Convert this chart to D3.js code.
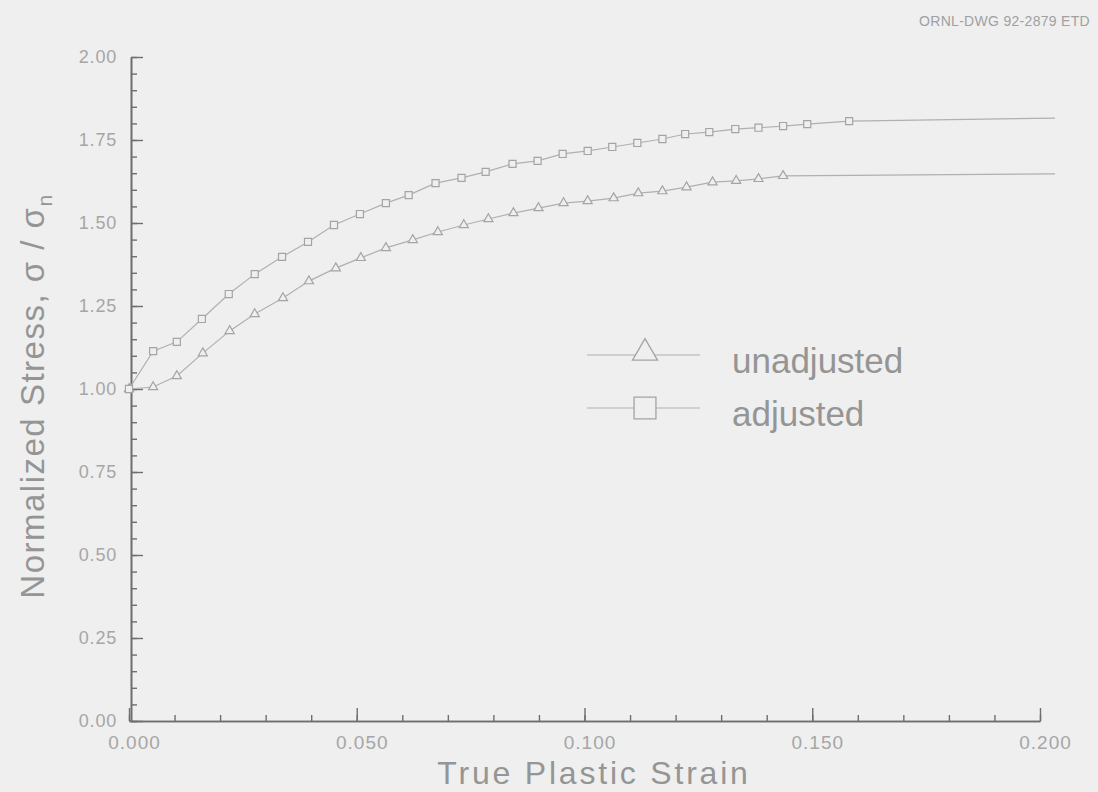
<!DOCTYPE html>
<html>
<head>
<meta charset="utf-8">
<script src="https://cdn.jsdelivr.net/npm/d3@7"></script>
<style>
  html, body { margin: 0; background: #efefef; }
  svg { display: block; font-family: "Liberation Sans", Arial, Helvetica, sans-serif; }
</style>
</head>
<body>
<svg id="chart" width="1098" height="792"></svg>
<script>
// Adjusted curve (square markers); last point is the plateau end of the line
const strainAdjusted = [0, 0.0053, 0.0105, 0.016, 0.0219, 0.0276, 0.0336, 0.0393, 0.0450, 0.0507,
  0.0564, 0.0614, 0.0673, 0.0730, 0.0783, 0.0842, 0.0897, 0.0952, 0.1007, 0.1061,
  0.1116, 0.1171, 0.1221, 0.1274, 0.1331, 0.1382, 0.1436, 0.1489, 0.1581, 0.2033];
const stressAdjusted = [1.00, 1.114, 1.142, 1.211, 1.286, 1.346, 1.398, 1.443, 1.494, 1.527,
  1.560, 1.584, 1.620, 1.636, 1.654, 1.678, 1.687, 1.708, 1.717, 1.729,
  1.741, 1.753, 1.768, 1.774, 1.783, 1.787, 1.792, 1.798, 1.807, 1.816];

// Unadjusted curve (triangle markers)
const strainUnadjusted = [0, 0.0053, 0.0105, 0.0162, 0.0221, 0.0276, 0.0338, 0.0395, 0.0454, 0.0509,
  0.0564, 0.0623, 0.0678, 0.0735, 0.0789, 0.0844, 0.0899, 0.0954, 0.1007, 0.1064,
  0.1118, 0.1171, 0.1224, 0.1281, 0.1333, 0.1382, 0.1436, 0.2033];
const stressUnadjusted = [1.00, 1.006, 1.039, 1.108, 1.175, 1.226, 1.274, 1.325, 1.364, 1.395,
  1.425, 1.449, 1.473, 1.494, 1.512, 1.530, 1.545, 1.560, 1.566, 1.575,
  1.590, 1.596, 1.608, 1.623, 1.627, 1.633, 1.642, 1.648];

const xMajorTicks = [0, 0.05, 0.10, 0.15, 0.20];
const xTickLabels = ["0.000", "0.050", "0.100", "0.150", "0.200"];
const yMajorTicks = [0, 0.25, 0.5, 0.75, 1.0, 1.25, 1.5, 1.75, 2.0];
const yTickLabels = ["0.00", "0.25", "0.50", "0.75", "1.00", "1.25", "1.50", "1.75", "2.00"];
const legendLabels = ["unadjusted", "adjusted"];

const svg = d3.select("#chart");
const x = d3.scaleLinear().domain([0, 0.2]).range([129, 1040]);
const y = d3.scaleLinear().domain([0, 2]).range([721, 57]);

const axisColor = "#6e6e6e";
const textColor = "#a6a6a6";
const titleColor = "#959595";
const curveColor = "#b0b0b0";
const markerColor = "#a4a4a4";

// minor ticks
const xMinor = d3.range(0, 0.2001, 0.01);
const yMinor = d3.range(0, 2.0001, 0.05);

function styleAxis(g) {
  g.select(".domain").attr("stroke", axisColor).attr("stroke-width", 1.6);
  g.selectAll(".tick line").attr("stroke", axisColor).attr("stroke-width", 1.4);
  g.selectAll(".tick text").attr("fill", textColor);
}

svg.append("g")
  .attr("transform", `translate(0,${y(0)})`)
  .call(d3.axisBottom(x).tickValues(xMinor).tickSizeInner(-6).tickSizeOuter(0).tickFormat(""))
  .call(styleAxis);
svg.append("g")
  .attr("transform", `translate(0,${y(0)})`)
  .call(d3.axisBottom(x).tickValues(xMajorTicks).tickSizeInner(-13).tickSizeOuter(0)
    .tickPadding(15).tickFormat((d, i) => xTickLabels[i]))
  .call(styleAxis)
  .call(g => g.selectAll(".tick text").attr("font-size", 19).attr("letter-spacing", 1).attr("dx", 5));

svg.append("g")
  .attr("transform", `translate(${x(0) + 2},0)`)
  .call(d3.axisLeft(y).tickValues(yMinor).tickSizeInner(-6).tickSizeOuter(0).tickFormat(""))
  .call(styleAxis);
svg.append("g")
  .attr("transform", `translate(${x(0) + 2},0)`)
  .call(d3.axisLeft(y).tickValues(yMajorTicks).tickSizeInner(-12).tickSizeOuter(0)
    .tickPadding(14).tickFormat((d, i) => yTickLabels[i]))
  .call(styleAxis)
  .call(g => g.selectAll(".tick text").attr("font-size", 18).attr("letter-spacing", 0.8));

// curves
const series = [
  { name: legendLabels[0], xs: strainUnadjusted, ys: stressUnadjusted, symbol: d3.symbolTriangle, size: 36 },
  { name: legendLabels[1], xs: strainAdjusted, ys: stressAdjusted, symbol: d3.symbolSquare, size: 50 }
];

const line = d3.line().x(d => x(d[0])).y(d => y(d[1]));

series.forEach(s => {
  const pts = s.xs.map((v, i) => [v, s.ys[i]]);
  svg.append("path")
    .datum(pts)
    .attr("d", line)
    .attr("fill", "none")
    .attr("stroke", curveColor)
    .attr("stroke-width", 1.2);
  svg.append("g").selectAll("path")
    .data(pts.slice(0, -1))
    .join("path")
    .attr("transform", d => `translate(${x(d[0])},${y(d[1])})`)
    .attr("d", d3.symbol().type(s.symbol).size(s.size))
    .attr("fill", "#efefef")
    .attr("stroke", markerColor)
    .attr("stroke-width", 1.2);
});

// legend
const legend = svg.append("g");
series.forEach((s, i) => {
  const cy = 355 + i * 53;
  legend.append("line")
    .attr("x1", 587).attr("x2", 700).attr("y1", cy).attr("y2", cy)
    .attr("stroke", curveColor).attr("stroke-width", 1.2);
  legend.append("path")
    .attr("transform", `translate(645,${cy - (i === 0 ? 2 : 0)})`)
    .attr("d", d3.symbol().type(s.symbol).size(i === 0 ? 270 : 480))
    .attr("fill", "#efefef")
    .attr("stroke", markerColor)
    .attr("stroke-width", 1.3);
  legend.append("text")
    .attr("x", 732).attr("y", cy + 18)
    .attr("font-size", 35)
    .attr("fill", titleColor)
    .text(s.name);
});

// axis titles
svg.append("text")
  .attr("x", 594).attr("y", 784)
  .attr("text-anchor", "middle")
  .attr("font-size", 32)
  .attr("letter-spacing", 2.8)
  .attr("fill", titleColor)
  .text("True Plastic Strain");

const yTitle = svg.append("text")
  .attr("transform", "translate(44,396) rotate(-90)")
  .attr("text-anchor", "middle")
  .attr("font-size", 33)
  .attr("letter-spacing", 1.5)
  .attr("fill", titleColor);
yTitle.append("tspan").text("Normalized Stress, σ / σ");
yTitle.append("tspan").attr("font-size", 21).attr("dy", 8).text("n");

// drawing number
svg.append("text")
  .attr("x", 1090).attr("y", 26)
  .attr("text-anchor", "end")
  .attr("font-size", 14)
  .attr("letter-spacing", 0.3)
  .attr("fill", "#a0a0a0")
  .text("ORNL-DWG 92-2879  ETD");
</script>
</body>
</html>
